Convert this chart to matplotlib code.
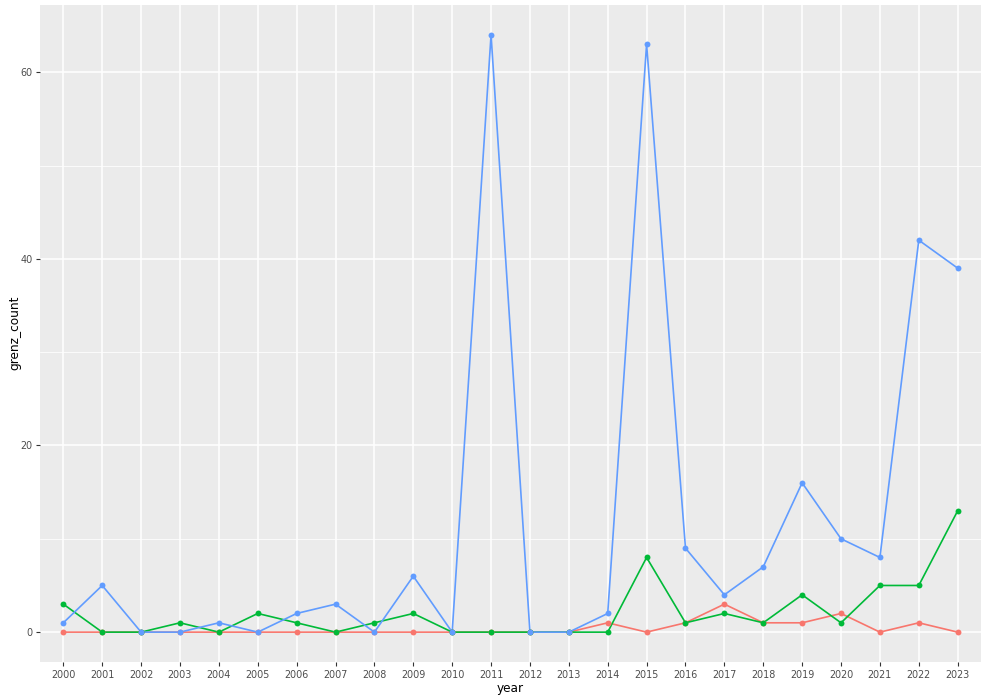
import matplotlib
matplotlib.use("Agg")
import matplotlib.pyplot as plt
from matplotlib.ticker import MultipleLocator

years = list(range(2000, 2024))
red_values = [0, 0, 0, 0, 0, 0, 0, 0, 0, 0, 0, 0, 0, 0, 1, 0, 1, 3, 1, 1, 2, 0, 1, 0]
green_values = [3, 0, 0, 1, 0, 2, 1, 0, 1, 2, 0, 0, 0, 0, 0, 8, 1, 2, 1, 4, 1, 5, 5, 13]
blue_values = [1, 5, 0, 0, 1, 0, 2, 3, 0, 6, 0, 64, 0, 0, 2, 63, 9, 4, 7, 16, 10, 8, 42, 39]
y_ticks = [0, 20, 40, 60]

colors = ["#F8766D", "#00BA38", "#619CFF"]
series = [red_values, green_values, blue_values]

fig = plt.figure(figsize=(9.91, 6.97), dpi=100)
ax = fig.add_axes([40 / 991, 1 - 662 / 697, (981 - 40) / 991, (662 - 5) / 697])
ax.set_facecolor("#EBEBEB")
for s in ax.spines.values():
    s.set_visible(False)

x = list(range(len(years)))
for vals, c in zip(series, colors):
    ax.plot(x, vals, color=c, lw=1.2, zorder=3)
    ax.scatter(x, vals, color=c, s=18, zorder=4, linewidths=0)

ax.set_xlim(-0.6, len(years) - 1 + 0.6)
ymax = max(max(s) for s in series)
ymin = 0
rng = ymax - ymin
ax.set_ylim(ymin - 0.05 * rng, ymax + 0.05 * rng)
ax.set_xticks(x)
ax.set_xticklabels([str(y) for y in years])
ax.set_yticks(y_ticks)
ax.yaxis.set_minor_locator(MultipleLocator(10))
ax.grid(which="major", color="white", lw=1.1, zorder=0)
ax.grid(which="minor", axis="y", color="white", lw=0.55, zorder=0)
ax.set_axisbelow(True)
ax.tick_params(axis="both", which="major", colors="#333333", length=3, width=0.8,
               labelsize=6.9, labelcolor="#4D4D4D", pad=2.5)
ax.tick_params(axis="y", which="minor", length=0)
ax.set_xlabel("year", fontsize=8.7, color="black", labelpad=2)
fig.text(15 / 991, 1 - 333 / 697, "grenz_count", fontsize=8.7, color="black",
         rotation=90, ha="center", va="center")

fig.savefig("out.png", dpi=100, facecolor="white")
